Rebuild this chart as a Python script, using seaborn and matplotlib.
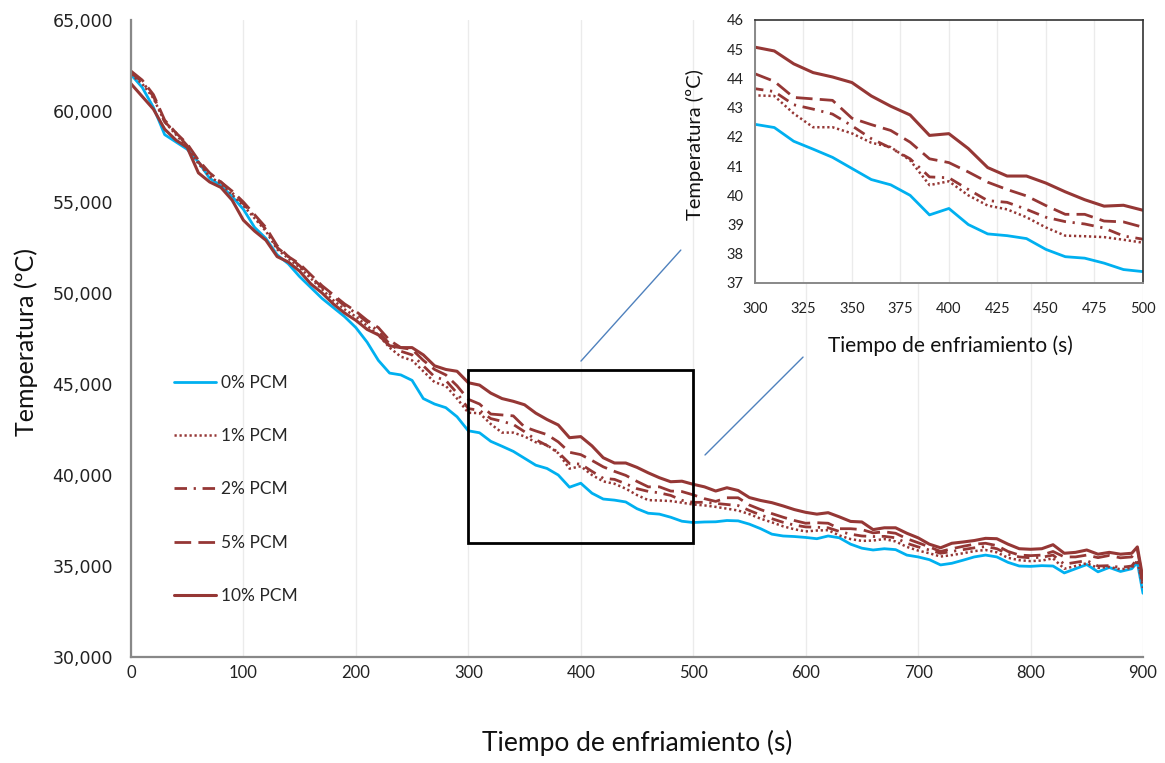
import matplotlib
matplotlib.use("Agg")
import matplotlib.pyplot as plt
from matplotlib.patches import Rectangle
from matplotlib.ticker import FuncFormatter, MultipleLocator
import numpy as np
import pandas as pd
import seaborn as sns

# tiempo (s): cada 10 s y los dos ultimos puntos
tiempo = list(range(0, 900, 10)) + [895, 900]

pcm0 = [62.0, 61.3, 60.2, 58.7, 58.3, 57.9, 57.2, 56.3, 55.9, 55.3, 54.6, 53.6, 53.0, 52.1, 51.6, 50.9,
        50.3, 49.7, 49.2, 48.7, 48.1, 47.3, 46.3, 45.6, 45.5, 45.2, 44.2, 43.9, 43.7, 43.2, 42.43,
        42.32, 41.85, 41.58, 41.3, 40.92, 40.54, 40.36, 40.0, 39.33, 39.55,
        39.0, 38.68, 38.62, 38.52, 38.15, 37.9, 37.85, 37.68, 37.46, 37.39,
        37.42, 37.43, 37.5, 37.48, 37.3, 37.05, 36.75, 36.65, 36.62, 36.57,
        36.5, 36.65, 36.55, 36.2, 35.98, 35.88, 35.95, 35.9, 35.6, 35.5,
        35.35, 35.06, 35.15, 35.32, 35.5, 35.6, 35.5, 35.2, 35.0, 34.98,
        35.02, 35.0, 34.62, 34.85, 35.08, 34.68, 34.92, 34.7, 34.85, 35.2, 33.5]

pcm1 = [62.0, 61.5, 60.7, 59.4, 58.7, 58.0, 57.1, 56.4, 56.0, 55.4, 54.8, 54.1, 53.4, 52.4, 51.9, 51.4,
        50.8, 50.2, 49.6, 49.1, 48.7, 48.2, 47.7, 47.0, 46.5, 46.3, 45.7, 45.1, 44.9, 44.2, 43.42,
        43.4, 42.8, 42.33, 42.33, 42.12, 41.8, 41.65, 41.2, 40.35, 40.48,
        40.0, 39.65, 39.52, 39.25, 38.9, 38.62, 38.6, 38.57, 38.48, 38.38,
        38.33, 38.25, 38.15, 38.05, 37.85, 37.6, 37.4, 37.18, 37.02, 36.9,
        36.95, 36.97, 36.68, 36.48, 36.38, 36.4, 36.48, 36.35, 36.05, 35.85,
        35.7, 35.52, 35.6, 35.7, 35.82, 35.88, 35.75, 35.45, 35.32, 35.27,
        35.3, 35.42, 34.85, 35.0, 35.15, 34.9, 34.95, 34.82, 34.9, 35.3, 33.8]

pcm2 = [62.1, 61.6, 60.8, 59.4, 58.8, 58.1, 57.2, 56.5, 56.1, 55.5, 54.9, 54.2, 53.5, 52.5, 52.0, 51.5,
        50.9, 50.3, 49.8, 49.3, 48.9, 48.4, 47.9, 47.2, 46.8, 46.6, 46.0, 45.4, 45.2, 44.5, 43.65,
        43.55, 43.1, 42.95, 42.78, 42.38, 41.94, 41.62, 41.25, 40.63, 40.6,
        40.2, 39.82, 39.76, 39.52, 39.25, 39.1, 39.02, 38.88, 38.61, 38.5,
        38.5, 38.44, 38.38, 38.32, 38.05, 37.8, 37.6, 37.4, 37.25, 37.15,
        37.13, 37.1, 36.9, 36.75, 36.65, 36.62, 36.63, 36.55, 36.25, 36.05,
        35.88, 35.7, 35.8, 35.9, 36.0, 36.07, 35.95, 35.65, 35.5, 35.45,
        35.48, 35.6, 35.1, 35.2, 35.3, 35.0, 35.02, 34.92, 35.0, 35.4, 34.0]

pcm5 = [62.2, 61.7, 60.9, 59.5, 58.8, 58.2, 57.3, 56.6, 56.1, 55.6, 55.0, 54.3, 53.6, 52.6, 52.0, 51.6,
        51.0, 50.4, 49.9, 49.4, 49.0, 48.5, 48.1, 47.4, 47.0, 46.9, 46.3, 45.8, 45.5, 44.9, 44.16,
        43.9, 43.35, 43.3, 43.25, 42.64, 42.42, 42.22, 41.82, 41.25, 41.12,
        40.8, 40.45, 40.2, 39.98, 39.65, 39.35, 39.35, 39.12, 39.09, 38.91,
        38.7, 38.55, 38.75, 38.75, 38.35, 38.1, 37.88, 37.68, 37.5, 37.35,
        37.38, 37.35, 37.05, 37.05, 37.0, 36.82, 36.88, 36.8, 36.5, 36.28,
        36.05, 35.8, 35.95, 36.08, 36.2, 36.25, 36.12, 35.8, 35.6, 35.57,
        35.6, 35.8, 35.5, 35.5, 35.6, 35.46, 35.58, 35.45, 35.5, 35.9, 34.2]

pcm10 = [61.5, 60.8, 60.1, 59.0, 58.4, 58.0, 56.6, 56.1, 55.8, 55.1, 54.0, 53.4, 52.9, 52.0, 51.7, 51.2,
         50.5, 50.0, 49.4, 48.9, 48.5, 48.0, 47.7, 47.1, 47.0, 47.0, 46.6, 46.0, 45.8, 45.7, 45.07,
         44.94, 44.5, 44.2, 44.05, 43.86, 43.4, 43.05, 42.75, 42.05, 42.11,
         41.6, 40.95, 40.66, 40.66, 40.42, 40.12, 39.85, 39.63, 39.66, 39.49,
         39.35, 39.12, 39.3, 39.15, 38.76, 38.6, 38.48, 38.3, 38.1, 37.95,
         37.85, 37.93, 37.7, 37.45, 37.42, 37.0, 37.1, 37.1, 36.8, 36.55,
         36.2, 36.0, 36.25, 36.32, 36.4, 36.52, 36.5, 36.2, 35.95, 35.92,
         35.95, 36.17, 35.7, 35.75, 35.88, 35.65, 35.75, 35.65, 35.7, 36.05, 34.3]

etiquetas = ["0% PCM", "1% PCM", "2% PCM", "5% PCM", "10% PCM"]

df = pd.DataFrame({"t": tiempo, "0% PCM": pcm0, "1% PCM": pcm1, "2% PCM": pcm2,
                   "5% PCM": pcm5, "10% PCM": pcm10})

azul = "#00B0F0"
rojo = "#953735"
estilos = {
    "0% PCM": dict(color=azul, linestyle="-", lw=2.0),
    "1% PCM": dict(color=rojo, linestyle=(0, (0.9, 1.1)), lw=1.8),
    "2% PCM": dict(color=rojo, linestyle=(0, (4.5, 2.4, 0.8, 2.4)), lw=2.0),
    "5% PCM": dict(color=rojo, linestyle=(0, (6, 2.6)), lw=2.0),
    "10% PCM": dict(color=rojo, linestyle="-", lw=2.2),
}

sns.set_style("white")
plt.rcParams["font.family"] = ["Lato", "DejaVu Sans"]
plt.rcParams["lines.solid_joinstyle"] = "round"
plt.rcParams["lines.dash_joinstyle"] = "round"

fig = plt.figure(figsize=(11.65, 7.63), dpi=100)
ax = fig.add_axes([0.1124, 0.1389, 0.8687, 0.8349])

for lab in etiquetas:
    sns.lineplot(data=df, x="t", y=lab, ax=ax, label=lab, **estilos[lab])

ax.set_xlim(0, 900)
ax.set_ylim(30, 65)
ax.xaxis.set_major_locator(MultipleLocator(100))
ax.yaxis.set_major_locator(MultipleLocator(5))
ax.yaxis.set_major_formatter(FuncFormatter(lambda v, _: f"{v:.3f}".replace(".", ",")))
ax.grid(axis="x", color="#EBEBEB", lw=1)
ax.grid(axis="y", visible=False)
ax.tick_params(length=0)
ax.tick_params(axis="y", pad=13, labelsize=12.5, labelcolor="#222222")
ax.tick_params(axis="x", pad=6, labelsize=12, labelcolor="#222222")
for lbl in ax.get_yticklabels():
    lbl.set_family("DejaVu Sans")
for s in ["top", "right"]:
    ax.spines[s].set_visible(False)
for s in ["left", "bottom"]:
    ax.spines[s].set_color("#888888")
    ax.spines[s].set_linewidth(1.6)

ax.set_xlabel("Tiempo de enfriamiento (s)", fontsize=19, color="#111111")
ax.set_ylabel("Temperatura (ºC)", fontsize=18, color="#111111")
ax.xaxis.set_label_coords(0.5, -0.115)
ax.yaxis.set_label_coords(-0.092, 0.494)

leg = ax.legend(loc="upper left", bbox_to_anchor=(0.043, 0.443), frameon=False,
                fontsize=12.5, labelspacing=2.15, handlelength=2.4, handletextpad=0.3,
                borderpad=0, borderaxespad=0)

# recuadro de la zona ampliada
ax.add_patch(Rectangle((300, 36.26), 200, 9.52, fill=False, ec="black", lw=2, zorder=5))
ax.plot([400.2, 489], [46.26, 52.36], color="#4F81BD", lw=1)
ax.plot([510.5, 597.7], [41.1, 46.48], color="#4F81BD", lw=1)

# grafico ampliado
ins = fig.add_axes([0.648, 0.6291, 0.3330, 0.3447])
ins.set_facecolor("white")
for lab in etiquetas:
    sns.lineplot(data=df, x="t", y=lab, ax=ins, legend=False, **estilos[lab])
ins.set_xlim(300, 500)
ins.set_ylim(37, 46)
ins.xaxis.set_major_locator(MultipleLocator(25))
ins.yaxis.set_major_locator(MultipleLocator(1))
ins.grid(axis="x", color="#EBEBEB", lw=1)
ins.grid(axis="y", visible=False)
ins.tick_params(length=0, labelsize=10.5, labelcolor="#222222")
ins.tick_params(axis="x", pad=14)
ins.tick_params(axis="y", pad=8)
for s in ["left", "bottom"]:
    ins.spines[s].set_color("#888888")
    ins.spines[s].set_linewidth(1.4)
for s in ["top", "right"]:
    ins.spines[s].set_color("#333333")
    ins.spines[s].set_linewidth(1.2)
ins.set_xlabel("Tiempo de enfriamiento (s)", fontsize=15, color="#111111")
ins.set_ylabel("Temperatura (ºC)", fontsize=14.5, color="#111111")
ins.xaxis.set_label_coords(0.503, -0.2)
ins.yaxis.set_label_coords(-0.132, 0.525)

fig.savefig("out.png", dpi=100)
